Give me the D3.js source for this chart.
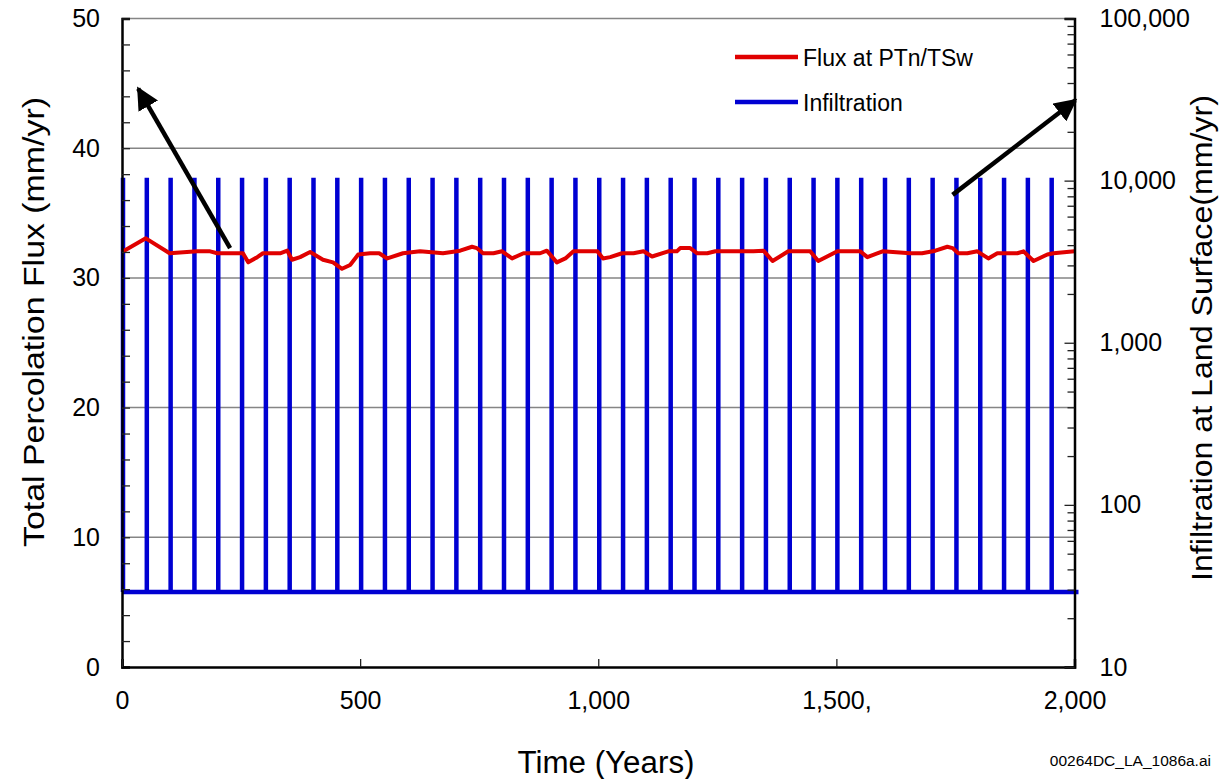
<!DOCTYPE html>
<html>
<head>
<meta charset="utf-8">
<script src="https://cdn.jsdelivr.net/npm/d3@7"></script>
<style>
  html, body { margin: 0; padding: 0; background: #fff; }
  svg { display: block; font-family: "Liberation Sans", Arial, sans-serif; }
</style>
</head>
<body>
<svg id="chart" width="1222" height="779"></svg>
<script>
// ---- Data ----
const fluxYears = [0,50,100,158,185,200,254,265,284,296,332,347,357,374,395,422,443,462,479,496,
  521,540,557,590,626,674,710,735,745,758,780,798,819,843,878,892,913,931,948,998,
  1010,1025,1050,1074,1095,1113,1147,1165,1172,1193,1208,1229,1246,1326,1347,1366,1399,1445,1462,1502,
  1550,1565,1597,1655,1680,1708,1733,1744,1756,1775,1796,1819,1838,1880,1893,1914,1943,1956,2000];
const fluxValues = [32.0,33.05,31.9,32.05,32.05,31.9,31.9,31.2,31.6,31.9,31.9,32.1,31.4,31.6,32.0,31.4,31.2,30.7,31.0,31.8,
  31.9,31.9,31.5,31.9,32.05,31.9,32.1,32.4,32.3,31.9,31.9,32.05,31.5,31.9,31.9,32.1,31.2,31.5,32.05,32.05,
  31.5,31.6,31.9,31.9,32.05,31.65,32.05,32.05,32.3,32.3,31.9,31.9,32.05,32.05,32.1,31.3,32.05,32.05,31.3,32.05,
  32.05,31.6,32.05,31.9,31.9,32.1,32.4,32.3,31.9,31.9,32.05,31.5,31.9,31.9,32.05,31.3,31.8,31.9,32.05];

const infilSpikeYears = [0,50,100,150,200,250,300,350,400,450,500,550,600,650,700,750,800,850,900,950,
  1000,1050,1100,1150,1200,1250,1300,1350,1400,1450,1500,1550,1600,1650,1700,1750,1800,1850,1900,1950];
const infilBase = 29;      // mm/yr between pulses
const infilPeak = 10400;   // mm/yr during pulses
const infilRange = [0, 2000];

const xTicks = [0, 500, 1000, 1500, 2000];
const xTickLabels = ["0", "500", "1,000", "1,500,", "2,000"];
const yLeftTicks = [0, 10, 20, 30, 40, 50];
const yLeftMinor = [2,4,6,8,12,14,16,18,22,24,26,28,32,34,36,38,42,44,46,48];
const yRightTicks = [10, 100, 1000, 10000, 100000];
const yRightLabels = ["10", "100", "1,000", "10,000", "100,000"];
const gridValues = [10, 20, 30, 40, 50];

// annotation arrows in data coords [year, left-axis value]
const arrows = [
  { from: [227, 32.3], to: [34, 44.6] },
  { from: [1744, 36.4], to: [2002, 43.7] }
];

// ---- Layout ----
const svg = d3.select("#chart");
const L = 122, R = 1074.5, T = 18.5, B = 667;

const x = d3.scaleLinear().domain([0, 2000]).range([L, R]);
const yL = d3.scaleLinear().domain([0, 50]).range([B, T]);
const yR = d3.scaleLog().domain([10, 100000]).range([B, T]);

// gridlines
svg.append("g").selectAll("line").data(gridValues).join("line")
  .attr("x1", L).attr("x2", R)
  .attr("y1", d => yL(d)).attr("y2", d => yL(d))
  .attr("stroke", "#858585").attr("stroke-width", 1.5);

// infiltration (blue)
const blue = "#0000d2";
const gInf = svg.append("g");
gInf.selectAll("line.spike").data(infilSpikeYears).join("line")
  .attr("class", "spike")
  .attr("x1", d => x(d) + 1).attr("x2", d => x(d) + 1)
  .attr("y1", yR(infilBase)).attr("y2", yR(infilPeak))
  .attr("stroke", blue).attr("stroke-width", 4.5);
gInf.append("line")
  .attr("x1", x(infilRange[0])).attr("x2", x(infilRange[1]) + 4)
  .attr("y1", yR(infilBase)).attr("y2", yR(infilBase))
  .attr("stroke", blue).attr("stroke-width", 4.5);

// flux (red)
const fluxData = fluxYears.map((d, i) => [d, fluxValues[i]]);
svg.append("path")
  .datum(fluxData)
  .attr("d", d3.line().x(d => x(d[0])).y(d => yL(d[1])))
  .attr("fill", "none").attr("stroke", "#e00000").attr("stroke-width", 4)
  .attr("stroke-linejoin", "round");

// axes
const fontSize = 25;
svg.append("g").attr("transform", `translate(${L},0)`)
  .call(d3.axisLeft(yL).tickValues(yLeftTicks).tickSize(-8).tickPadding(22).tickFormat(d3.format("d")));
svg.append("g").attr("transform", `translate(${L},0)`)
  .call(d3.axisLeft(yL).tickValues(yLeftMinor).tickSize(-8).tickFormat(""))
  .call(g => g.select(".domain").remove());

svg.append("g").attr("transform", `translate(0,${B})`)
  .call(d3.axisBottom(x).tickValues(xTicks).tickSize(-8).tickPadding(24)
    .tickFormat((d, i) => xTickLabels[i]));

const minorR = [];
yRightTicks.slice(0, -1).forEach(dec => { for (let m = 2; m <= 9; m++) minorR.push(dec * m); });
svg.append("g").attr("transform", `translate(${R},0)`)
  .call(d3.axisRight(yR).tickValues(yRightTicks).tickSize(-10).tickPadding(25)
    .tickFormat((d, i) => yRightLabels[i]));
svg.append("g").attr("transform", `translate(${R},0)`)
  .call(d3.axisRight(yR).tickValues(minorR).tickSize(-7).tickFormat(""))
  .call(g => g.select(".domain").remove());

svg.selectAll(".domain").attr("stroke", "#000").attr("stroke-width", 2.5);
svg.selectAll(".tick line").attr("stroke", "#222").attr("stroke-width", 1.3);
svg.selectAll(".tick text").attr("font-size", fontSize).attr("fill", "#000")
  .attr("font-family", "'Liberation Sans', Arial, sans-serif");

// axis titles
svg.append("text").attr("x", 606).attr("y", 773).attr("text-anchor", "middle")
  .attr("font-size", 31).attr("textLength", 177).attr("lengthAdjust", "spacingAndGlyphs")
  .text("Time (Years)");
svg.append("text").attr("transform", `translate(44,322) rotate(-90)`)
  .attr("text-anchor", "middle").attr("font-size", 30)
  .attr("textLength", 450).attr("lengthAdjust", "spacingAndGlyphs")
  .text("Total Percolation Flux (mm/yr)");
svg.append("text").attr("transform", `translate(1212,338) rotate(-90)`)
  .attr("text-anchor", "middle").attr("font-size", 30)
  .attr("textLength", 486).attr("lengthAdjust", "spacingAndGlyphs")
  .text("Infiltration at Land Surface(mm/yr)");

// footnote
svg.append("text").attr("x", 1211).attr("y", 766).attr("text-anchor", "end")
  .attr("font-size", 15.5).text("00264DC_LA_1086a.ai");

// legend
const legend = [
  { label: "Flux at PTn/TSw", color: "#e00000", y: 57 },
  { label: "Infiltration", color: blue, y: 102 }
];
const lg = svg.append("g");
legend.forEach(l => {
  lg.append("line").attr("x1", 735).attr("x2", 798).attr("y1", l.y).attr("y2", l.y)
    .attr("stroke", l.color).attr("stroke-width", 4.5);
  lg.append("text").attr("x", 803).attr("y", l.y + 9).attr("font-size", 23).text(l.label);
});

// arrows
const defs = svg.append("defs");
defs.append("marker").attr("id", "ah").attr("viewBox", "0 0 10 10")
  .attr("refX", 9).attr("refY", 5).attr("markerWidth", 5).attr("markerHeight", 5)
  .attr("markerUnits", "strokeWidth").attr("orient", "auto")
  .append("path").attr("d", "M0,0 L10,5 L0,10 Z").attr("fill", "#000");
svg.append("g").selectAll("line").data(arrows).join("line")
  .attr("x1", d => x(d.from[0])).attr("y1", d => yL(d.from[1]))
  .attr("x2", d => x(d.to[0])).attr("y2", d => yL(d.to[1]))
  .attr("stroke", "#000").attr("stroke-width", 4.5)
  .attr("marker-end", "url(#ah)");
</script>
</body>
</html>
